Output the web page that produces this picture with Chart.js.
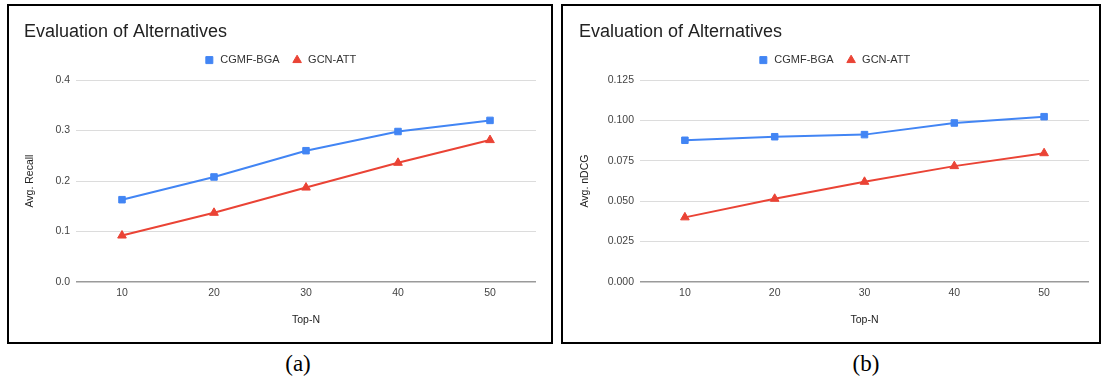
<!DOCTYPE html>
<html><head><meta charset="utf-8">
<script src="https://cdn.jsdelivr.net/npm/chart.js@4.4.1/dist/chart.umd.min.js"></script>
<style>
html,body{margin:0;padding:0;background:#fff;width:1102px;height:383px;overflow:hidden;position:relative;}
.panel{position:absolute;border:2px solid #000;box-sizing:border-box;}
#pa{left:7px;top:4px;width:546px;height:340px;}
#pb{left:561px;top:4px;width:540px;height:340px;}
canvas{position:absolute;}
#ca{left:9px;top:6px;}
#cb{left:563px;top:6px;}
.cap{position:absolute;top:349px;width:60px;text-align:center;font-family:"Liberation Serif","DejaVu Serif",serif;font-size:23px;line-height:30px;color:#000;}
</style></head>
<body>
<div class="panel" id="pa"></div>
<div class="panel" id="pb"></div>
<canvas id="ca" width="542" height="336"></canvas>
<canvas id="cb" width="536" height="336"></canvas>
<div class="cap" style="left:268px">(a)</div>
<div class="cap" style="left:836px">(b)</div>
<script>
const categories = ['10', '20', '30', '40', '50'];
const recallCGMF = [0.163, 0.208, 0.260, 0.298, 0.320];
const recallGCN  = [0.092, 0.137, 0.187, 0.236, 0.281];
const ndcgCGMF   = [0.0877, 0.0899, 0.0912, 0.0984, 0.1023];
const ndcgGCN    = [0.0400, 0.0515, 0.0620, 0.0717, 0.0797];
const recallTicks = ['0.0', '0.1', '0.2', '0.3', '0.4'];
const ndcgTicks   = ['0.000', '0.025', '0.050', '0.075', '0.100', '0.125'];
const seriesNames = ['CGMF-BGA', 'GCN-ATT'];

const BLUE = '#4285F4', RED = '#EA4335';
const TICK = '#444444', AXT = '#222222';
Chart.defaults.font.family = '"Liberation Sans", Arial, sans-serif';

const legendHeight = {
  id: 'legendHeight',
  beforeInit(chart, args, opts) {
    const lg = chart.legend;
    if (!lg) return;
    const orig = lg.fit;
    lg.fit = function () { orig.call(this); this.height = opts.h; };
  }
};

function makeChart(id, s1, s2, ticks, yTitle, o) {
  const yMax = parseFloat(ticks[ticks.length - 1]);
  const step = parseFloat(ticks[1]) - parseFloat(ticks[0]);
  return new Chart(document.getElementById(id), {
    type: 'line',
    data: {
      labels: categories,
      datasets: [
        { label: seriesNames[0], data: s1, borderColor: BLUE, backgroundColor: BLUE,
          pointStyle: 'rect', pointRadius: 4.6, pointBorderWidth: 1, pointBorderColor: BLUE, pointBackgroundColor: BLUE,
          borderWidth: 2, tension: 0, fill: false },
        { label: seriesNames[1], data: s2, borderColor: RED, backgroundColor: RED,
          pointStyle: 'triangle', pointRadius: 5, pointBorderWidth: 1, pointBorderColor: RED, pointBackgroundColor: RED,
          borderWidth: 2, tension: 0, fill: false }
      ]
    },
    options: {
      responsive: false, animation: false,
      layout: { padding: { left: o.pl, right: o.pr, top: 0, bottom: o.pb } },
      plugins: {
        tooltip: { enabled: false },
        title: { display: true, text: 'Evaluation of Alternatives', align: 'start', color: AXT,
          font: { size: 18, weight: 'normal' }, padding: { top: 15, bottom: 0 } },
        legend: { display: true, position: 'top', align: 'center',
          labels: { usePointStyle: true, boxHeight: 7, color: '#333', font: { size: 11 }, padding: 12 } },
        legendHeight: { h: 37.4 }
      },
      scales: {
        x: {
          offset: true,
          grid: { display: false, drawTicks: false },
          border: { display: false },
          ticks: { color: TICK, font: { size: 10.5 }, padding: 5 },
          title: { display: true, text: 'Top-N', color: AXT, font: { size: 10.5 }, padding: 0 },
          afterFit(s) { s.height = o.xh; }
        },
        y: {
          min: 0, max: yMax,
          grid: {
            drawTicks: false,
            color: c => (c.tick && c.tick.value === 0) ? '#9a9a9a' : '#dcdcdc',
            lineWidth: c => (c.tick && c.tick.value === 0) ? 1.6 : 1
          },
          border: { display: false },
          ticks: { stepSize: step, color: TICK, font: { size: 10.5 }, padding: 6,
            callback: v => ticks[Math.round(v / step)] },
          title: { display: true, text: yTitle, color: AXT, font: { size: 10.5 }, padding: 0 },
          afterFit(s) { s.width = o.yw; }
        }
      }
    },
    plugins: [legendHeight]
  });
}

makeChart('ca', recallCGMF, recallGCN, recallTicks, 'Avg. Recall', { pl: 15, pr: 15, pb: 15.7, xh: 44.3, yw: 52 });
makeChart('cb', ndcgCGMF, ndcgGCN, ndcgTicks, 'Avg. nDCG', { pl: 16, pr: 10, pb: 15.7, xh: 44.3, yw: 61 });
</script>
</body></html>
